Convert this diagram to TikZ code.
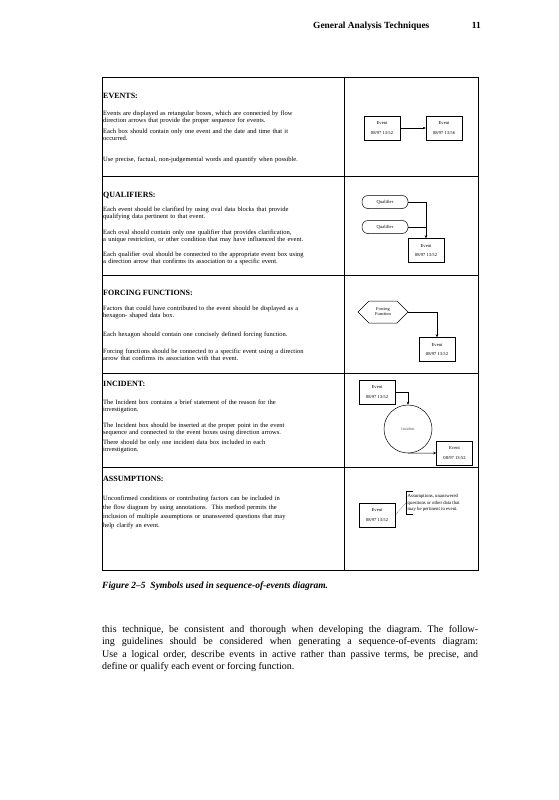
\documentclass[tikz,border=0pt]{standalone}
\usepackage{fontspec}
\setmainfont{Liberation Serif}
\usepackage{tikz}
\usetikzlibrary{
  arrows.meta,
  positioning,
  shapes.geometric,
  shapes.symbols,
  calc
}
\frenchspacing
\tikzset{
  tabline/.style={line width=0.7pt},
  rowtitle/.style={anchor=base west, inner sep=0pt,
    font=\fontsize{8}{9}\selectfont\bfseries},
  bodytext/.style={anchor=base west, inner sep=0pt, text width=245pt,
    align=left, font=\fontsize{6.5}{7.2}\selectfont},
  evbox/.style={draw, line width=0.5pt, minimum width=36pt,
    minimum height=24pt, inner sep=1pt, align=center,
    font=\fontsize{4.6}{5.5}\selectfont},
  qualoval/.style={draw, line width=0.5pt, rounded corners=6pt,
    minimum width=46pt, minimum height=13pt, inner sep=1pt,
    font=\fontsize{4.6}{5.5}\selectfont},
  forcehex/.style={draw, line width=0.5pt, signal,
    signal to=west and east, minimum width=50pt, minimum height=22pt,
    inner sep=1pt, align=center, font=\fontsize{4.4}{5}\selectfont},
  incircle/.style={draw, line width=0.5pt, circle, minimum size=48pt,
    inner sep=0pt, font=\fontsize{4}{5}\selectfont, text=black!70},
  notebox/.style={anchor=west, inner xsep=1.5pt, inner ysep=3pt,
    align=left, font=\fontsize{4.8}{6.3}\selectfont},
  arr/.style={-{Stealth[length=3pt, width=2.6pt]}, line width=0.45pt},
}
\newcommand{\evtext}[1]{Event\\[4pt]08/97 13:#1}

\begin{document}
\begin{tikzpicture}[x=1pt, y=-1pt]
  \useasboundingbox (0,0) rectangle (559,800);
  \fill[white] (0,0) rectangle (559,800);

  % Running head
  \node[anchor=base west, inner sep=0pt,
        font=\fontsize{9.4}{11}\selectfont\bfseries] (head) at (313,28.5)
    {General Analysis Techniques};
  \node[anchor=base east, inner sep=0pt,
        font=\fontsize{9.4}{11}\selectfont\bfseries] (pageno) at (481,28.5)
    {11};

  % Table frame
  \draw[tabline] (102,77) rectangle (478,570);
  \draw[tabline] (344,77) -- (344,570);
  \foreach \y in {176,275,373,467}
    \draw[tabline] (102,\y) -- (478,\y);

  % Events
  \node[rowtitle] (evtitle) at (103,98) {EVENTS:};
  \node[bodytext] (evp1) at (103,115)
    {Events are displayed as retangular boxes, which are connected by flow\\
     direction arrows that provide the proper sequence for events.};
  \node[bodytext] (evp2) at (103,133)
    {Each box should contain only one event and the date and time that it\\
     occurred.};
  \node[bodytext] (evp3) at (103,161)
    {Use precise, factual, non-judgemental words and quantify when possible.};

  \node[evbox] (evA) at (382,128) {\evtext{52}};
  \node[evbox] (evB) at (444,128) {\evtext{56}};
  \draw[arr] (evA) -- (evB);

  % Qualifiers
  \node[rowtitle] (qtitle) at (103,197) {QUALIFIERS:};
  \node[bodytext] (qp1) at (103,211)
    {Each event should be clarified by using oval data blocks that provide\\
     qualifying data pertinent to that event.};
  \node[bodytext] (qp2) at (103,234)
    {Each oval should contain only one qualifier that provides clarification,\\
     a unique restriction, or other condition that may have influenced the event.};
  \node[bodytext] (qp3) at (103,256)
    {Each qualifier oval should be connected to the appropriate event box using\\
     a direction arrow that confirms its association to a specific event.};

  \node[qualoval] (qual1) at (385,202) {Qualifier};
  \node[qualoval] (qual2) at (385,227) {Qualifier};
  \node[evbox] (qev) at (426,250.5) {\evtext{52}};
  \draw[arr] (qual1.east) -| (qev.north);
  \draw[line width=0.45pt] (qual2.east) -- (qual2.east -| qev.north);

  % Forcing functions
  \node[rowtitle] (ftitle) at (103,295) {FORCING FUNCTIONS:};
  \node[bodytext] (fp1) at (103,310)
    {Factors that could have contributed to the event should be displayed as a\\
     hexagon- shaped data box.};
  \node[bodytext] (fp2) at (103,336)
    {Each hexagon should contain one concisely defined forcing function.};
  \node[bodytext] (fp3) at (103,353)
    {Forcing functions should be connected to a specific event using a direction\\
     arrow that confirms its association with that event.};

  \node[forcehex] (force) at (383,312) {Forcing\\Function};
  \node[evbox] (fev) at (437,349.5) {\evtext{52}};
  \draw[arr] (force.east) -| (fev.north);

  % Incident
  \node[rowtitle] (ititle) at (103,386) {INCIDENT:};
  \node[bodytext] (ip1) at (103,404)
    {The Incident box contains a brief statement of the reason for the\\
     investigation.};
  \node[bodytext] (ip2) at (103,427)
    {The Incident box should be inserted at the proper point in the event\\
     sequence and connected to the event boxes using direction arrows.};
  \node[bodytext] (ip3) at (103,444)
    {There should be only one incident data box included in each\\
     investigation.};

  \node[evbox] (iev1) at (377,392) {\evtext{52}};
  \node[incircle] (inc) at (408,429) {Incident};
  \node[evbox] (iev2) at (454.5,453) {\evtext{52}};
  \draw[arr] (iev1.east) -| (inc.north);
  \draw[arr] (inc.south) -- (iev2.west);

  % Assumptions
  \node[rowtitle] (atitle) at (103,481) {ASSUMPTIONS:};
  \node[bodytext, font=\fontsize{6.5}{9.2}\selectfont] (ap1) at (103,500)
    {Unconfirmed conditions or contributing factors can be included in\\
     the flow diagram by using annotations.\ \ This method permits the\\
     inclusion of multiple assumptions or unanswered questions that may\\
     help clarify an event.};

  \node[evbox] (aev) at (377,515) {\evtext{52}};
  \node[notebox] (note) at (406,503)
    {Assumptions, unanswered\\questions or other data that\\may be pertinent to event.};
  \draw[line width=0.5pt] ([xshift=7pt]note.north west) -- (note.north west)
    -- (note.south west) -- ([xshift=7pt]note.south west);
  \draw[densely dotted, line width=0.4pt] (aev.east) -- (note.west);

  % Caption
  \node[anchor=base west, inner sep=0pt,
        font=\fontsize{9.5}{11}\selectfont\bfseries\itshape] (caption) at (102,588)
    {Figure 2--5\ \ Symbols used in sequence-of-events diagram.};

  % Running text
  \node[anchor=base west, inner sep=0pt, text width=376pt, align=justify,
        font=\fontsize{10}{12.6}\selectfont] (para) at (102,632)
    {this technique, be consistent and thorough when developing the diagram. The
     follow-\linebreak ing guidelines should be considered when generating a
     sequence-of-events diagram:\linebreak Use a logical order, describe events
     in active rather than passive terms, be precise, and\linebreak define or
     qualify each event or forcing function.};
\end{tikzpicture}
\end{document}
